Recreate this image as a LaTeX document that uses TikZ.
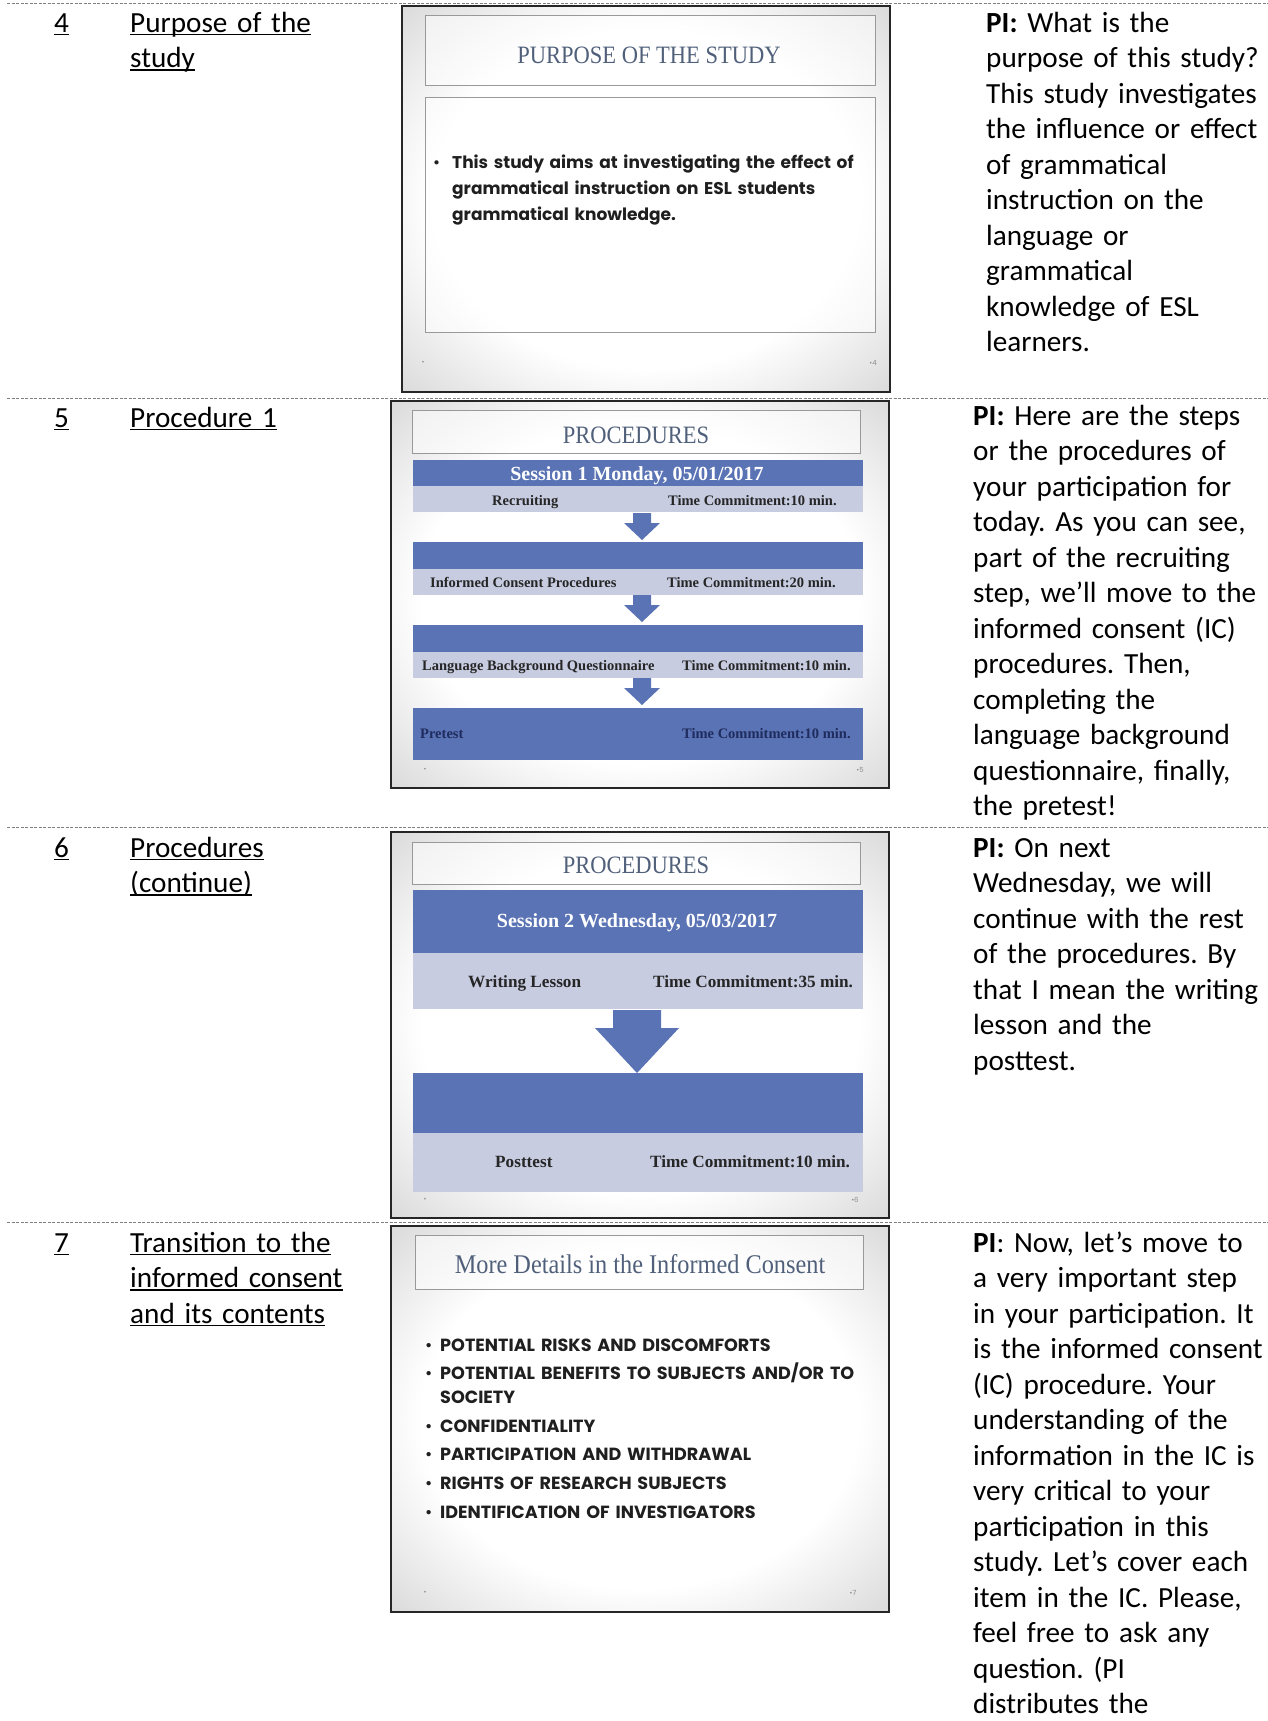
\documentclass[tikz,border=0pt]{standalone}
\usepackage{fontspec}
\setmainfont{Carlito}
\newfontfamily\slideserif{Liberation Serif}
\newfontfamily\titleserif{Liberation Serif}[FakeStretch=0.9]
\newfontfamily\slidesans{Poppins}
\usetikzlibrary{positioning}
\frenchspacing

\definecolor{barblue}{HTML}{5A73B5}
\definecolor{barlav}{HTML}{C7CCE1}
\definecolor{titlegray}{HTML}{50607A}
\definecolor{navytext}{HTML}{1F2C5E}
\definecolor{rulegray}{HTML}{7F7F7F}

\pgfdeclareradialshading{slideglow}{\pgfpoint{0bp}{0bp}}{color(0bp)=(white); color(22bp)=(white); color(50bp)=(black!30)}

\newcommand\celltext{\fontsize{29.2pt}{35.5pt}\selectfont}
\newcommand\uln[1]{\leavevmode\setbox0\hbox{#1}\rlap{\rule[-3.4pt]{\wd0}{1.8pt}}\box0}
\newcommand\blt[1][15pt]{\leavevmode\makebox[#1][l]{\mdseries\textbullet}}

\tikzset{
  rowline/.style={draw=rulegray, line width=0.9pt, dash pattern=on 3pt off 1.5pt},
  slideframe/.style={draw=black!85, line width=2pt, shading=slideglow},
  titlebox/.style={draw=black!40, line width=0.8pt, fill=white, fill opacity=0.55},
  cell/.style={anchor=base west, inner sep=0pt, font=\celltext, align=left, text width=#1},
  cell/.default=320pt,
  slidetitle/.style={anchor=base, inner sep=0pt, text=titlegray, font=\titleserif\fontsize{25pt}{25pt}\selectfont},
  bartext/.style={anchor=base west, inner sep=0pt, text=black!85, font=\slideserif\bfseries\fontsize{#1}{#1}\selectfont},
  bullets/.style={anchor=base west, inner sep=0pt, align=left, text width=450pt, text=black!88},
  footmark/.style={inner sep=0pt, text=black!45, font=\slidesans\fontsize{7pt}{7pt}\selectfont},
}

\begin{document}
\begin{tikzpicture}[x=1pt,y=-1pt]
  \useasboundingbox (0,0) rectangle (1268,1721);
  \fill[white] (0,0) rectangle (1268,1721);
  % row rules
  \foreach \y in {3,398,827,1222}
    \draw[rowline] (7,\y) -- (1268,\y);

  % row 4
  \node[cell=60pt] (num4) at (54,32) {\uln{4}};
  \node[cell=240pt] (topic4) at (130,32) {\uln{Purpose of the}\\\uln{study}};
  \node[cell] (note4) at (986,32) {\textbf{PI:} What is the\\purpose of this study?\\This study investigates\\the influence or effect\\of grammatical\\instruction on the\\language or\\grammatical\\knowledge of ESL\\learners.};
  % slide 4
  \shadedraw[slideframe] (402,6) rectangle (890,392);
  \filldraw[titlebox] (425,15) rectangle (875,85);
  \node[slidetitle] (s4title) at (649,63) {PURPOSE OF THE STUDY};
  \filldraw[titlebox] (425,97) rectangle (875,332);
  \node[bullets, font=\slidesans\bfseries\fontsize{17pt}{26pt}\selectfont] (s4body) at (433,168)
    {\blt[19pt]This study aims at investigating the effect of\\\hspace*{19pt}grammatical instruction on ESL students\\\hspace*{19pt}grammatical knowledge.};
  \node[footmark] (s4dot) at (423,363) {\textbullet};
  \node[footmark] (s4page) at (873,363) {\textbullet4};

  % row 5
  \node[cell=60pt] (num5) at (54,427) {\uln{5}};
  \node[cell=240pt] (topic5) at (130,427) {\uln{Procedure 1}};
  \node[cell] (note5) at (973,425) {\textbf{PI:} Here are the steps\\or the procedures of\\your participation for\\today. As you can see,\\part of the recruiting\\step, we’ll move to the\\informed consent (IC)\\procedures. Then,\\completing the\\language background\\questionnaire, finally,\\the pretest!};
  % slide 5
  \shadedraw[slideframe] (391,401) rectangle (889,788);
  \filldraw[titlebox] (412,410) rectangle (860,453);
  \node[slidetitle] (s5title) at (636,443) {PROCEDURES};
  \fill[barblue] (413,460) rectangle (863,486);
  \fill[barlav] (413,486) rectangle (863,512);
  \fill[barblue] (413,542) rectangle (863,569);
  \fill[barlav] (413,569) rectangle (863,595);
  \fill[barblue] (413,625) rectangle (863,652);
  \fill[barlav] (413,652) rectangle (863,678);
  \fill[barblue] (413,708) rectangle (863,760);
  \foreach \t in {513,595,678}
    \fill[barblue] (633,\t) -- (651,\t) -- (651,\t+10) -- (660,\t+10) -- (642,\t+27) -- (624,\t+10) -- (633,\t+10) -- cycle;
  \node[bartext=20pt, anchor=base, text=white] (s5session) at (637,480) {Session 1 Monday, 05/01/2017};
  \node[bartext=14.5pt] (s5recruit) at (492,505) {Recruiting};
  \node[bartext=14.5pt] (s5time1) at (668,505) {Time Commitment:10 min.};
  \node[bartext=14.5pt] (s5consent) at (430,587) {Informed Consent Procedures};
  \node[bartext=14.5pt] (s5time2) at (667,587) {Time Commitment:20 min.};
  \node[bartext=14.5pt] (s5lang) at (422,670) {Language Background Questionnaire};
  \node[bartext=14.5pt] (s5time3) at (682,670) {Time Commitment:10 min.};
  \node[bartext=14.5pt, text=navytext] (s5pretest) at (420,738) {Pretest};
  \node[bartext=14.5pt, text=navytext] (s5time4) at (682,738) {Time Commitment:10 min.};
  \node[footmark] (s5dot) at (425,770) {\textbullet};
  \node[footmark] (s5page) at (860,770) {\textbullet5};

  % row 6
  \node[cell=60pt] (num6) at (54,857) {\uln{6}};
  \node[cell=240pt] (topic6) at (130,857) {\uln{Procedures}\\\uln{(continue)}};
  \node[cell] (note6) at (973,857) {\textbf{PI:} On next\\Wednesday, we will\\continue with the rest\\of the procedures. By\\that I mean the writing\\lesson and the\\posttest.};
  % slide 6
  \shadedraw[slideframe] (391,832) rectangle (889,1218);
  \filldraw[titlebox] (412,842) rectangle (860,884);
  \node[slidetitle] (s6title) at (636,873) {PROCEDURES};
  \fill[barblue] (413,890) rectangle (863,953);
  \fill[barlav] (413,953) rectangle (863,1009);
  \fill[barblue] (413,1073) rectangle (863,1133);
  \fill[barlav] (413,1133) rectangle (863,1192);
  \fill[barblue] (613,1010) -- (661,1010) -- (661,1028) -- (679,1028) -- (637,1073) -- (595,1028) -- (613,1028) -- cycle;
  \node[bartext=20pt, anchor=base, text=white] (s6session) at (637,927) {Session 2 Wednesday, 05/03/2017};
  \node[bartext=17.2pt] (s6lesson) at (468,987) {Writing Lesson};
  \node[bartext=17.2pt] (s6time1) at (653,987) {Time Commitment:35 min.};
  \node[bartext=17.2pt] (s6posttest) at (495,1167) {Posttest};
  \node[bartext=17.2pt] (s6time2) at (650,1167) {Time Commitment:10 min.};
  \node[footmark] (s6dot) at (425,1200) {\textbullet};
  \node[footmark] (s6page) at (855,1200) {\textbullet6};

  % row 7
  \node[cell=60pt] (num7) at (54,1252) {\uln{7}};
  \node[cell=240pt] (topic7) at (130,1252) {\uln{Transition to the}\\\uln{informed consent}\\\uln{and its contents}};
  \node[cell] (note7) at (973,1252) {\textbf{PI}: Now, let’s move to\\a very important step\\in your participation. It\\is the informed consent\\(IC) procedure. Your\\understanding of the\\information in the IC is\\very critical to your\\participation in this\\study. Let’s cover each\\item in the IC. Please,\\feel free to ask any\\question. (PI\\distributes the};
  % slide 7
  \shadedraw[slideframe] (391,1226) rectangle (889,1612);
  \filldraw[titlebox] (415,1235) rectangle (863,1289);
  \node[slidetitle, font=\titleserif\fontsize{27pt}{27pt}\selectfont] (s7title) at (640,1273) {More Details in the Informed Consent};
  \node[bullets, font=\slidesans\bfseries\fontsize{17.6pt}{24pt}\selectfont] (s7body) at (425,1351)
    {\blt POTENTIAL RISKS AND DISCOMFORTS\\[4.6pt]
     \blt POTENTIAL BENEFITS TO SUBJECTS AND/OR TO\\
     \hspace*{15pt}SOCIETY\\[4.6pt]
     \blt CONFIDENTIALITY\\[4.6pt]
     \blt PARTICIPATION AND WITHDRAWAL\\[4.6pt]
     \blt RIGHTS OF RESEARCH SUBJECTS\\[4.6pt]
     \blt IDENTIFICATION OF INVESTIGATORS};
  \node[footmark] (s7dot) at (425,1593) {\textbullet};
  \node[footmark] (s7page) at (853,1593) {\textbullet7};
\end{tikzpicture}
\end{document}
